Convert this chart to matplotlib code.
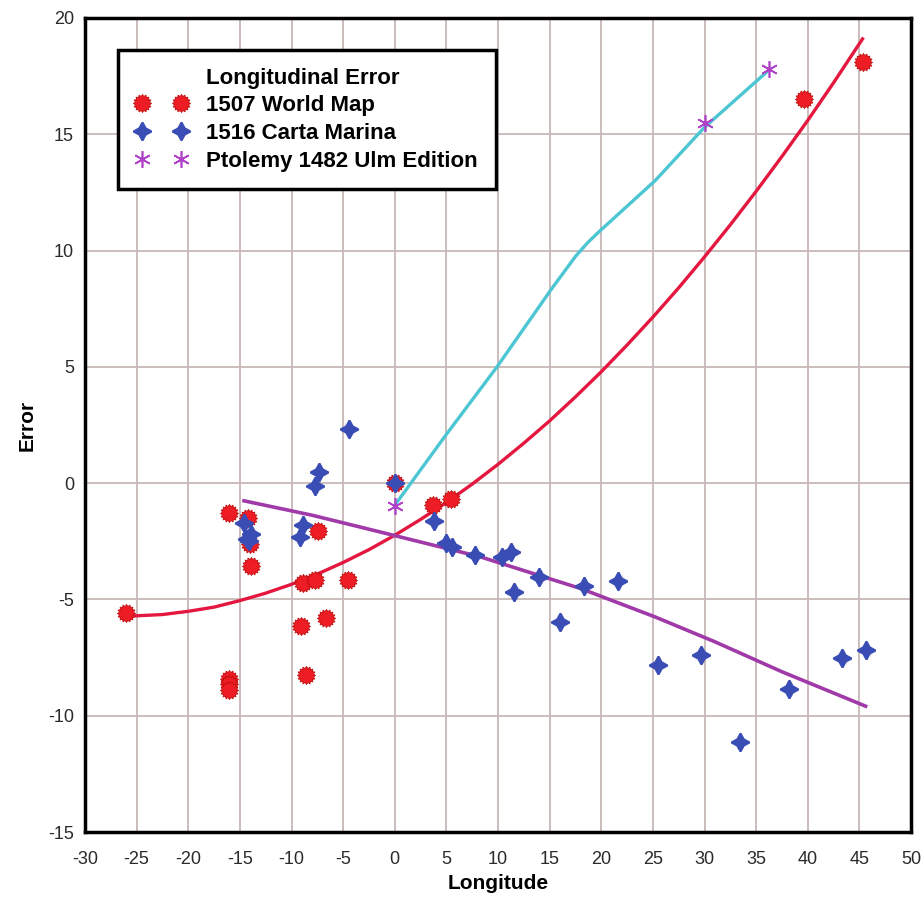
import matplotlib
matplotlib.use("Agg")
import matplotlib.pyplot as plt
import numpy as np
from matplotlib.path import Path
from matplotlib.lines import Line2D

plt.rcParams["axes.unicode_minus"] = False

# 1507 World Map (red bursts)
map1507_x = [-26.0, -16.1, -14.2, -14.0, -13.9, -7.4, -8.9, -7.7, -4.5, -9.1,
             -6.7, -8.6, -16.1, -16.1, -16.1, 0.0, 3.7, 5.4, 39.6, 45.3]
map1507_y = [-5.6, -1.28, -1.48, -2.6, -3.55, -2.05, -4.3, -4.15, -4.15, -6.15,
             -5.8, -8.25, -8.4, -8.65, -8.9, 0.0, -0.95, -0.7, 16.5, 18.1]

# 1516 Carta Marina (blue crosses)
carta_x = [-4.45, -7.3, -7.7, 0.0, -14.6, -13.9, -14.3, -14.1, -8.9, -9.2,
           3.8, 5.0, 5.5, 7.8, 10.4, 11.3, 11.5, 14.0, 16.0, 18.3,
           21.6, 25.5, 29.7, 33.4, 38.2, 43.3, 45.6]
carta_y = [2.31, 0.49, -0.13, 0.0, -1.73, -2.19, -2.38, -2.5, -1.8, -2.3,
           -1.62, -2.57, -2.74, -3.1, -3.17, -2.95, -4.7, -4.03, -5.96, -4.43,
           -4.2, -7.8, -7.37, -11.15, -8.83, -7.5, -7.18]

# Ptolemy 1482 Ulm Edition (asterisks)
ptolemy_x = [0.0, 30.0, 36.2]
ptolemy_y = [-1.0, 15.5, 17.8]

# trend lines
red_trend_x = [-25.8, -22.5, -20, -17.5, -15, -12.5, -10, -7.5, -5, -2.5, 0,
               2.5, 5, 7.5, 10, 12.5, 15, 17.5, 20, 22.5, 25, 27.5, 30,
               32.5, 35, 37.5, 40, 42.5, 45.3]
red_trend_y = [-5.72, -5.65, -5.51, -5.33, -5.05, -4.73, -4.35, -3.91, -3.41,
               -2.86, -2.24, -1.56, -0.83, -0.04, 0.81, 1.72, 2.68, 3.71,
               4.79, 5.94, 7.14, 8.40, 9.73, 11.11, 12.55, 14.05, 15.6,
               17.22, 19.1]
purple_trend_x = [-14.6, -8.0, -1.5, 8.3, 18.0, 25.2, 31.0, 37.5, 45.6]
purple_trend_y = [-0.76, -1.38, -2.09, -3.17, -4.53, -5.75, -6.82, -8.11, -9.59]
cyan_x = [0.0, 5.0, 9.9, 15.1, 17.5, 18.7, 20.0, 25.2, 30.0, 36.2]
cyan_y = [-0.95, 2.1, 5.0, 8.3, 9.75, 10.35, 10.9, 13.0, 15.3, 17.75]

xticks = list(range(-30, 51, 5))
yticks = list(range(-15, 21, 5))

# burst marker for the red points
ang = np.linspace(0, 2 * np.pi, 33)[:-1]
rad = np.where(np.arange(32) % 2 == 0, 1.0, 0.78)
verts = np.column_stack([rad * np.cos(ang), rad * np.sin(ang)])
verts = np.vstack([verts, verts[:1]])
burst = Path(verts, closed=True)

red = "#ee1c24"
blue = "#3a4db4"
purple_m = "#b040c8"
line_red = "#e4173f"
line_purple = "#a03aa8"
line_cyan = "#4cc6d2"

fig = plt.figure(figsize=(9.24, 8.99), dpi=100)
ax = fig.add_axes([0.092, 0.0745, 0.894, 0.9055])

ax.plot(red_trend_x, red_trend_y, color=line_red, lw=2.4, zorder=3)
ax.plot(purple_trend_x, purple_trend_y, color=line_purple, lw=2.6, zorder=3)
ax.plot(cyan_x, cyan_y, color=line_cyan, lw=2.4, zorder=3)

ax.plot(map1507_x, map1507_y, ls="none", marker=burst, ms=13, mfc=red,
        mec="#c01010", mew=0.6, zorder=4)
ax.plot(carta_x, carta_y, ls="none", marker=(4, 1, 0), ms=13, mfc=blue,
        mec=blue, mew=1.5, zorder=5)
ax.plot(ptolemy_x, ptolemy_y, ls="none", marker=(6, 2, 0), ms=12,
        mec=purple_m, mew=1.2, zorder=6)

ax.set_xlim(-30, 50)
ax.set_ylim(-15, 20)
ax.set_xticks(xticks)
ax.set_yticks(yticks)
ax.grid(True, color="#c6b8b6", lw=1.3)
ax.set_axisbelow(True)
ax.tick_params(length=0, labelsize=13, labelcolor="#2a2a2a")
ax.tick_params(axis="x", pad=14)
ax.tick_params(axis="y", pad=8)
for lab in ax.get_xticklabels() + ax.get_yticklabels():
    lab.set_family(["Liberation Sans Narrow", "Liberation Sans"])
for s in ax.spines.values():
    s.set_linewidth(2.5)
    s.set_color("black")

ax.set_xlabel("Longitude", fontsize=15, fontweight="bold",
              family="Liberation Sans", labelpad=4)
ax.set_ylabel("Error", fontsize=15, fontweight="bold",
              family="Liberation Sans", labelpad=8)

handles = [
    Line2D([], [], ls="none"),
    Line2D([], [], ls="none", marker=burst, ms=13, mfc=red, mec="#c01010", mew=0.6),
    Line2D([], [], ls="none", marker=(4, 1, 0), ms=13, mfc=blue, mec=blue, mew=1.5),
    Line2D([], [], ls="none", marker=(6, 2, 0), ms=12, mec=purple_m, mew=1.2),
]
labels = ["Longitudinal Error", "1507 World Map", "1516 Carta Marina",
          "Ptolemy 1482 Ulm Edition"]
leg = ax.legend(handles, labels, loc="upper left", bbox_to_anchor=(0.04, 0.961),
                borderaxespad=0, numpoints=2, handlelength=2.32,
                handletextpad=0.85, labelspacing=0.3, borderpad=0.8,
                fancybox=False, framealpha=1, edgecolor="black",
                prop={"family": "Liberation Sans", "weight": "bold", "size": 16})
leg.get_frame().set_linewidth(2.5)
leg.set_zorder(10)

fig.savefig("out.png", dpi=100, facecolor="white")
